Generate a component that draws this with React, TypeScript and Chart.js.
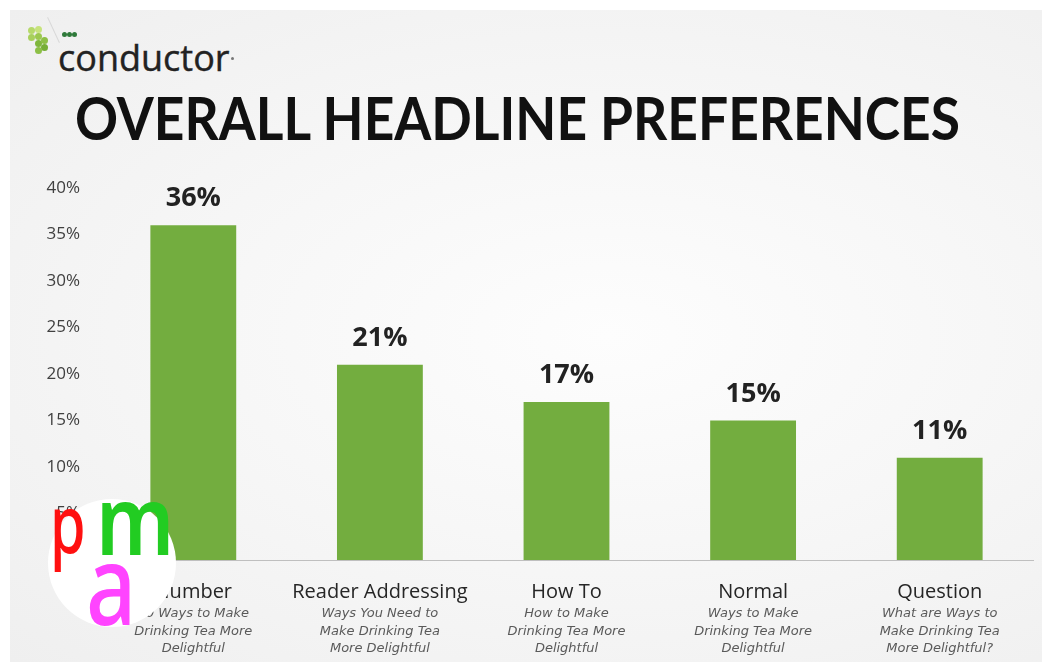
import React, { useEffect, useLayoutEffect, useRef } from "react";
import { Chart, registerables } from "chart.js";

Chart.register(...registerables);

const categories = ["Number", "Reader Addressing", "How To", "Normal", "Question"];
const exampleLines = [
  ["30 Ways to Make", "Drinking Tea More", "Delightful"],
  ["Ways You Need to", "Make Drinking Tea", "More Delightful"],
  ["How to Make", "Drinking Tea More", "Delightful"],
  ["Ways to Make", "Drinking Tea More", "Delightful"],
  ["What are Ways to", "Make Drinking Tea", "More Delightful?"],
];
const shares = [36, 21, 17, 15, 11];
const yMin = 0;
const yMax = 40;
const yStep = 5;

const title = "OVERALL HEADLINE PREFERENCES";
const brand = "conductor";

const valueLabelPlugin = {
  id: "valueLabels",
  afterDatasetsDraw(chart: any) {
    const ctx = chart.ctx;
    const meta = chart.getDatasetMeta(0);
    ctx.save();
    ctx.font = "bold 27px 'Open Sans'";
    ctx.fillStyle = "#222222";
    ctx.textAlign = "center";
    ctx.textBaseline = "alphabetic";
    meta.data.forEach((el: any, i: number) => {
      ctx.fillText(shares[i] + "%", el.x, el.y - 19);
    });
    ctx.restore();
  },
};

const subLabelPlugin = {
  id: "subLabels",
  afterDraw(chart: any) {
    const ctx = chart.ctx;
    const xs = chart.scales.x;
    const base = chart.chartArea.bottom;
    ctx.save();
    ctx.font = "oblique 13px 'DejaVu Sans'";
    ctx.fillStyle = "#5a5a5a";
    ctx.textAlign = "center";
    ctx.textBaseline = "middle";
    exampleLines.forEach((lines, i) => {
      const x = xs.getPixelForValue(i);
      lines.forEach((line, j) => {
        ctx.fillText(line, x, base + 54 + j * 17.5);
      });
    });
    ctx.restore();
  },
};

function Watermark() {
  const common: React.CSSProperties = {
    position: "absolute",
    fontFamily: "'Noto Sans', sans-serif",
    lineHeight: 1,
    transformOrigin: "left top",
    whiteSpace: "nowrap",
  };
  return (
    <>
      <div
        style={{
          position: "absolute",
          left: 48,
          top: 499,
          width: 128,
          height: 128,
          borderRadius: "50%",
          background: "#ffffff",
        }}
      />
      <span style={{ ...common, left: 50, top: 482, fontSize: 80, fontWeight: 500, color: "#ff1010", transform: "scaleX(0.72)" }}>p</span>
      <span style={{ ...common, left: 96, top: 470, fontSize: 96, fontWeight: 600, color: "#22cc22", transform: "scaleX(0.85)" }}>m</span>
      <span style={{ ...common, left: 86, top: 527, fontSize: 110, fontWeight: 500, color: "#ff44ff", transform: "scaleX(0.8)" }}>a</span>
    </>
  );
}

function Logo() {
  const dots: [number, number, string][] = [
    [31, 30, "#b6d96a"],
    [38, 29, "#c7e37c"],
    [31, 37, "#a8d05c"],
    [38, 36, "#9cc84f"],
    [44, 40, "#8dbf45"],
    [38, 43, "#7fb63c"],
    [44, 47, "#76ae36"],
    [38, 50, "#8cbf46"],
  ];
  const dark: [number, number][] = [
    [64, 34],
    [69, 34],
    [74, 34],
  ];
  return (
    <>
      <div
        style={{
          position: "absolute",
          left: 53,
          top: 16,
          width: 1,
          height: 28,
          background: "#d8d8d8",
          transform: "rotate(-25deg)",
        }}
      />
      {dots.map(([x, y, c], i) => (
        <div
          key={"d" + i}
          style={{ position: "absolute", left: x - 3.5, top: y - 3.5, width: 7, height: 7, borderRadius: "50%", background: c }}
        />
      ))}
      {dark.map(([x, y], i) => (
        <div
          key={"k" + i}
          style={{ position: "absolute", left: x - 2.5, top: y - 2.5, width: 5, height: 5, borderRadius: "50%", background: "#2f7a3a" }}
        />
      ))}
      <div
        style={{
          position: "absolute",
          left: 58,
          top: 40,
          fontFamily: "'Open Sans', sans-serif",
          fontSize: 36,
          fontWeight: 500,
          lineHeight: 1,
          color: "#222222",
          whiteSpace: "nowrap",
          WebkitTextStroke: "0.4px #222222",
        }}
      >
        {brand}
      </div>
      <div style={{ position: "absolute", left: 231, top: 57, width: 3, height: 3, borderRadius: "50%", background: "#777" }} />
    </>
  );
}

export default function App() {
  const canvasRef = useRef<HTMLCanvasElement | null>(null);
  const titleRef = useRef<HTMLDivElement | null>(null);

  useLayoutEffect(() => {
    const el = titleRef.current;
    if (el) {
      const w = el.scrollWidth;
      if (w > 0) el.style.transform = `scaleX(${885 / w})`;
    }
  }, []);

  useEffect(() => {
    const canvas = canvasRef.current;
    if (!canvas) return;
    const chart = new Chart(canvas, {
      type: "bar",
      data: {
        labels: categories,
        datasets: [
          {
            data: shares,
            backgroundColor: "#73ad3f",
            borderWidth: 0,
            barPercentage: 0.46,
            categoryPercentage: 1,
          },
        ],
      },
      options: {
        responsive: false,
        animation: false,
        devicePixelRatio: 1,
        layout: { padding: { top: 188, right: 9, left: 0, bottom: 0 } },
        plugins: {
          legend: { display: false },
          tooltip: { enabled: false },
          title: { display: false },
        },
        scales: {
          x: {
            grid: { display: false, drawTicks: false },
            border: { display: true, color: "#bfbfbf", width: 1 },
            ticks: {
              padding: 20,
              color: "#262626",
              font: { family: "'Open Sans'", size: 20 },
              maxRotation: 0,
              autoSkip: false,
            },
            afterFit: (scale: any) => {
              scale.height = 102;
            },
          },
          y: {
            min: yMin,
            max: yMax,
            grid: { display: false, drawTicks: false },
            border: { display: false },
            ticks: {
              stepSize: yStep,
              padding: 20,
              color: "#404040",
              font: { family: "'Open Sans'", size: 17 },
              callback: (v: any) => v + "%",
            },
            afterFit: (scale: any) => {
              scale.width = 100;
            },
          },
        },
      },
      plugins: [valueLabelPlugin, subLabelPlugin],
    });
    return () => chart.destroy();
  }, []);

  return (
    <div
      style={{
        position: "fixed",
        left: 0,
        top: 0,
        width: 1042,
        height: 662,
        background: "#ffffff",
        overflow: "hidden",
      }}
    >
      <div
        style={{
          position: "absolute",
          left: 10,
          top: 10,
          width: 1032,
          height: 652,
          background: "radial-gradient(ellipse at 58% 50%, #fdfdfd 0%, #f7f7f7 45%, #efefef 100%)",
        }}
      />
      <Logo />
      <div
        ref={titleRef}
        style={{
          position: "absolute",
          left: 75,
          top: 87,
          fontFamily: "Lato, sans-serif",
          fontWeight: 700,
          fontSize: 60,
          lineHeight: 1,
          color: "#111111",
          whiteSpace: "nowrap",
          transformOrigin: "left top",
          display: "inline-block",
        }}
      >
        {title}
      </div>
      <canvas
        ref={canvasRef}
        width={1042}
        height={662}
        style={{ position: "absolute", left: 0, top: 0, width: 1042, height: 662 }}
      />
      <Watermark />
    </div>
  );
}
